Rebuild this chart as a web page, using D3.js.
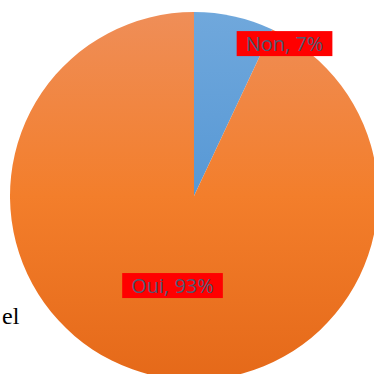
<!DOCTYPE html>
<html>
<head>
<meta charset="utf-8">
<script src="https://cdn.jsdelivr.net/npm/d3@7"></script>
<style>
  html, body { margin: 0; padding: 0; background: #fff; overflow: hidden; }
  svg { display: block; }
</style>
</head>
<body>
<svg id="chart" width="374" height="374"></svg>
<script>
// Répartition des réponses
const categories = ["Non", "Oui"];
const values = [7, 93];
const labelTexts = ["Non, 7%", "Oui, 93%"];
const gradTop = ["#70a8dc", "#ef8e58"];
const gradMid = ["#5798d5", "#f37e2b"];
const gradBottom = ["#4688cf", "#e56919"];

const svg = d3.select("#chart");
const cx = 194, cy = 196, r = 184;

const defs = svg.append("defs");
categories.forEach((c, i) => {
  // coordinates are relative to the pie centre (the slices' group)
  const g = defs.append("linearGradient")
    .attr("id", "grad" + i)
    .attr("gradientUnits", "userSpaceOnUse")
    .attr("x1", 0).attr("y1", -r).attr("x2", 0).attr("y2", r);
  g.append("stop").attr("offset", "0%").attr("stop-color", gradTop[i]);
  g.append("stop").attr("offset", "50%").attr("stop-color", gradMid[i]);
  g.append("stop").attr("offset", "100%").attr("stop-color", gradBottom[i]);
});

const pie = d3.pie().sort(null).value(d => d)(values);
const arc = d3.arc().innerRadius(0).outerRadius(r);

const g = svg.append("g").attr("transform", `translate(${cx},${cy})`);
g.selectAll("path.slice")
  .data(pie)
  .join("path")
  .attr("class", "slice")
  .attr("d", arc)
  .attr("fill", (d, i) => `url(#grad${i})`);

// Étiquettes de données
const labelArc = [
  d3.arc().innerRadius(r * 0.91).outerRadius(r * 0.91),
  d3.arc().innerRadius(r * 0.56).outerRadius(r * 0.56)
];
const labelOffset = [[54, 11], [1, -11]];

pie.forEach((d, i) => {
  const [lx, ly] = labelArc[i].centroid(d);
  const px = lx + labelOffset[i][0], py = ly + labelOffset[i][1];
  const lg = g.append("g").attr("transform", `translate(${px},${py})`);
  const t = lg.append("text")
    .attr("text-anchor", "middle")
    .attr("dominant-baseline", "central")
    .attr("font-family", "'Open Sans', 'Noto Sans', sans-serif")
    .attr("font-size", 20)
    .attr("fill", "#515a72")
    .text(labelTexts[i]);
  const bb = t.node().getBBox();
  lg.insert("rect", "text")
    .attr("x", -bb.width / 2 - 9)
    .attr("y", -12.5)
    .attr("width", bb.width + 18)
    .attr("height", 25)
    .attr("fill", "#ff0000");
});

// Texte de légende en bord gauche
svg.append("text")
  .attr("x", 2)
  .attr("y", 324)
  .attr("font-family", "'Liberation Serif', 'DejaVu Serif', serif")
  .attr("font-size", 24)
  .attr("fill", "#000")
  .text("el");
</script>
</body>
</html>
